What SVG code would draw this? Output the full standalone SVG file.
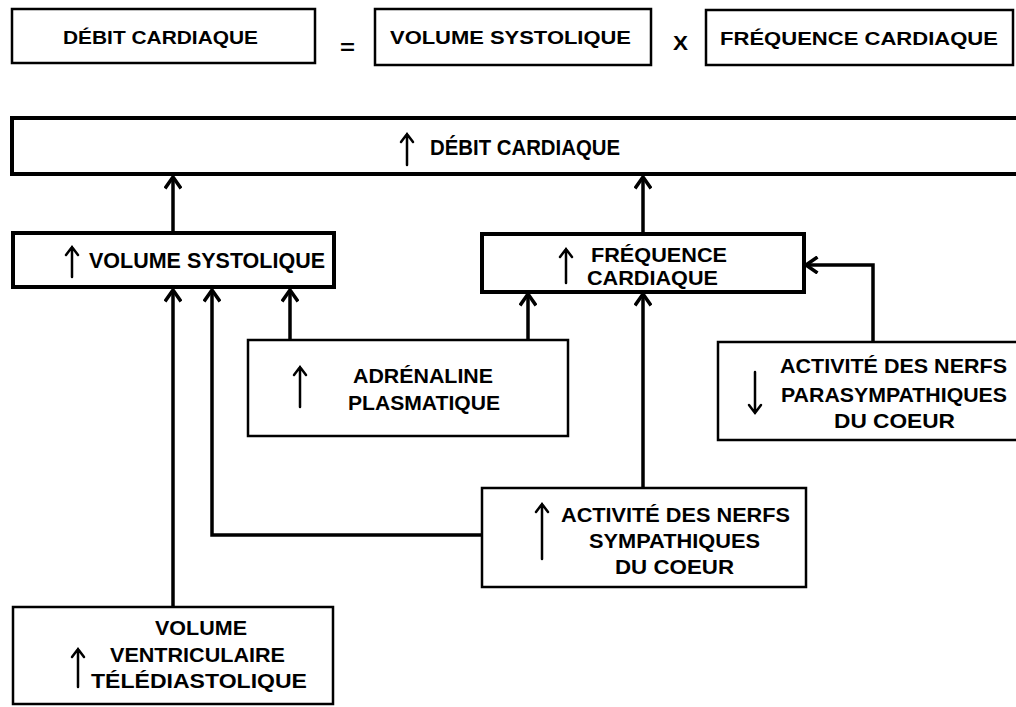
<svg xmlns="http://www.w3.org/2000/svg" width="1016" height="707" viewBox="0 0 1016 707">
<style>
.box{fill:#fff;stroke:#000;stroke-width:2.5}
.thick{stroke-width:4}
.t{font-family:"Liberation Sans",Arial,Helvetica,sans-serif;font-weight:bold;font-size:20.5px;fill:#000}
.s{font-size:18.5px}
.l{font-size:21.5px}
.conn{fill:none;stroke:#000;stroke-width:3.5;marker-end:url(#ah)}
.sym{fill:none;stroke:#000;stroke-width:2.5;stroke-linecap:round}
</style>
<defs>
<marker id="ah" viewBox="0 0 14 18" refX="12.5" refY="9" markerWidth="14" markerHeight="18" orient="auto" markerUnits="userSpaceOnUse">
<path d="M1,1 L12.5,9 L1,17" fill="none" stroke="#000" stroke-width="3.5"/>
</marker>
</defs>
<rect width="1016" height="707" fill="#fff"/>

<g id="connectors">
<path class="conn" d="M173,233 V177"/>
<path class="conn" d="M643,234 V177"/>
<path class="conn" d="M173,607 V290"/>
<path class="conn" d="M482,535 H212 V290"/>
<path class="conn" d="M290,340 V290"/>
<path class="conn" d="M528,340 V294"/>
<path class="conn" d="M643,488 V294"/>
<path class="conn" d="M873,342 V265 H806"/>
</g>

<g id="eq-debit">
<rect class="box" x="12" y="9" width="303" height="54"/>
<text class="t s" x="63" y="43.5" textLength="195" lengthAdjust="spacingAndGlyphs">DÉBIT CARDIAQUE</text>
</g>
<g id="eq-sign">
<text class="t" x="340" y="54" font-size="22" textLength="15" lengthAdjust="spacingAndGlyphs">=</text>
</g>
<g id="eq-volume">
<rect class="box" x="375" y="9" width="276" height="56"/>
<text class="t s" x="390" y="44" textLength="241" lengthAdjust="spacingAndGlyphs">VOLUME SYSTOLIQUE</text>
</g>
<g id="eq-times">
<text class="t" x="673" y="50" textLength="15" lengthAdjust="spacingAndGlyphs">X</text>
</g>
<g id="eq-frequence">
<rect class="box" x="706" y="10" width="307" height="55"/>
<text class="t s" x="720" y="45" textLength="278" lengthAdjust="spacingAndGlyphs">FRÉQUENCE CARDIAQUE</text>
</g>

<g id="debit">
<rect class="box thick" x="12" y="118" width="1015" height="56"/>
<path class="sym" d="M407,165 V134 M401,142 L407,134 L413,142"/>
<text class="t l" x="430" y="155" textLength="190" lengthAdjust="spacingAndGlyphs">DÉBIT CARDIAQUE</text>
</g>

<g id="volume">
<rect class="box thick" x="13" y="233" width="321" height="54"/>
<path class="sym" d="M72,277 V247 M66,255 L72,247 L78,255"/>
<text class="t l" x="89" y="268" textLength="236" lengthAdjust="spacingAndGlyphs">VOLUME SYSTOLIQUE</text>
</g>

<g id="frequence">
<rect class="box thick" x="482" y="234" width="322" height="58"/>
<path class="sym" d="M566,283 V249 M560,257 L566,249 L572,257"/>
<text class="t" x="591" y="262" textLength="136" lengthAdjust="spacingAndGlyphs">FRÉQUENCE</text>
<text class="t" x="587" y="285" textLength="131" lengthAdjust="spacingAndGlyphs">CARDIAQUE</text>
</g>

<g id="adrenaline">
<rect class="box" x="248" y="340" width="320" height="96"/>
<path class="sym" d="M300,407 V367 M294,375 L300,367 L306,375"/>
<text class="t" x="353" y="383" textLength="140" lengthAdjust="spacingAndGlyphs">ADRÉNALINE</text>
<text class="t" x="348" y="410" textLength="152" lengthAdjust="spacingAndGlyphs">PLASMATIQUE</text>
</g>

<g id="parasympathique">
<rect class="box" x="718" y="342" width="310" height="98"/>
<path class="sym" d="M755,372 V413 M749,405 L755,413 L761,405"/>
<text class="t" x="780" y="373" textLength="227" lengthAdjust="spacingAndGlyphs">ACTIVITÉ DES NERFS</text>
<text class="t" x="781" y="402" textLength="226" lengthAdjust="spacingAndGlyphs">PARASYMPATHIQUES</text>
<text class="t" x="834" y="428" textLength="121" lengthAdjust="spacingAndGlyphs">DU COEUR</text>
</g>

<g id="sympathique">
<rect class="box" x="482" y="488" width="324" height="99"/>
<path class="sym" d="M542,559 V504 M536,512 L542,504 L548,512"/>
<text class="t" x="561" y="522" textLength="229" lengthAdjust="spacingAndGlyphs">ACTIVITÉ DES NERFS</text>
<text class="t" x="589" y="548" textLength="171" lengthAdjust="spacingAndGlyphs">SYMPATHIQUES</text>
<text class="t" x="615" y="574" textLength="119" lengthAdjust="spacingAndGlyphs">DU COEUR</text>
</g>

<g id="telediastolique">
<rect class="box" x="13" y="607" width="320" height="97"/>
<path class="sym" d="M78,687 V649 M72,657 L78,649 L84,657"/>
<text class="t" x="155" y="635" textLength="92" lengthAdjust="spacingAndGlyphs">VOLUME</text>
<text class="t" x="110" y="662" textLength="175" lengthAdjust="spacingAndGlyphs">VENTRICULAIRE</text>
<text class="t" x="91" y="688" textLength="216" lengthAdjust="spacingAndGlyphs">TÉLÉDIASTOLIQUE</text>
</g>
</svg>
